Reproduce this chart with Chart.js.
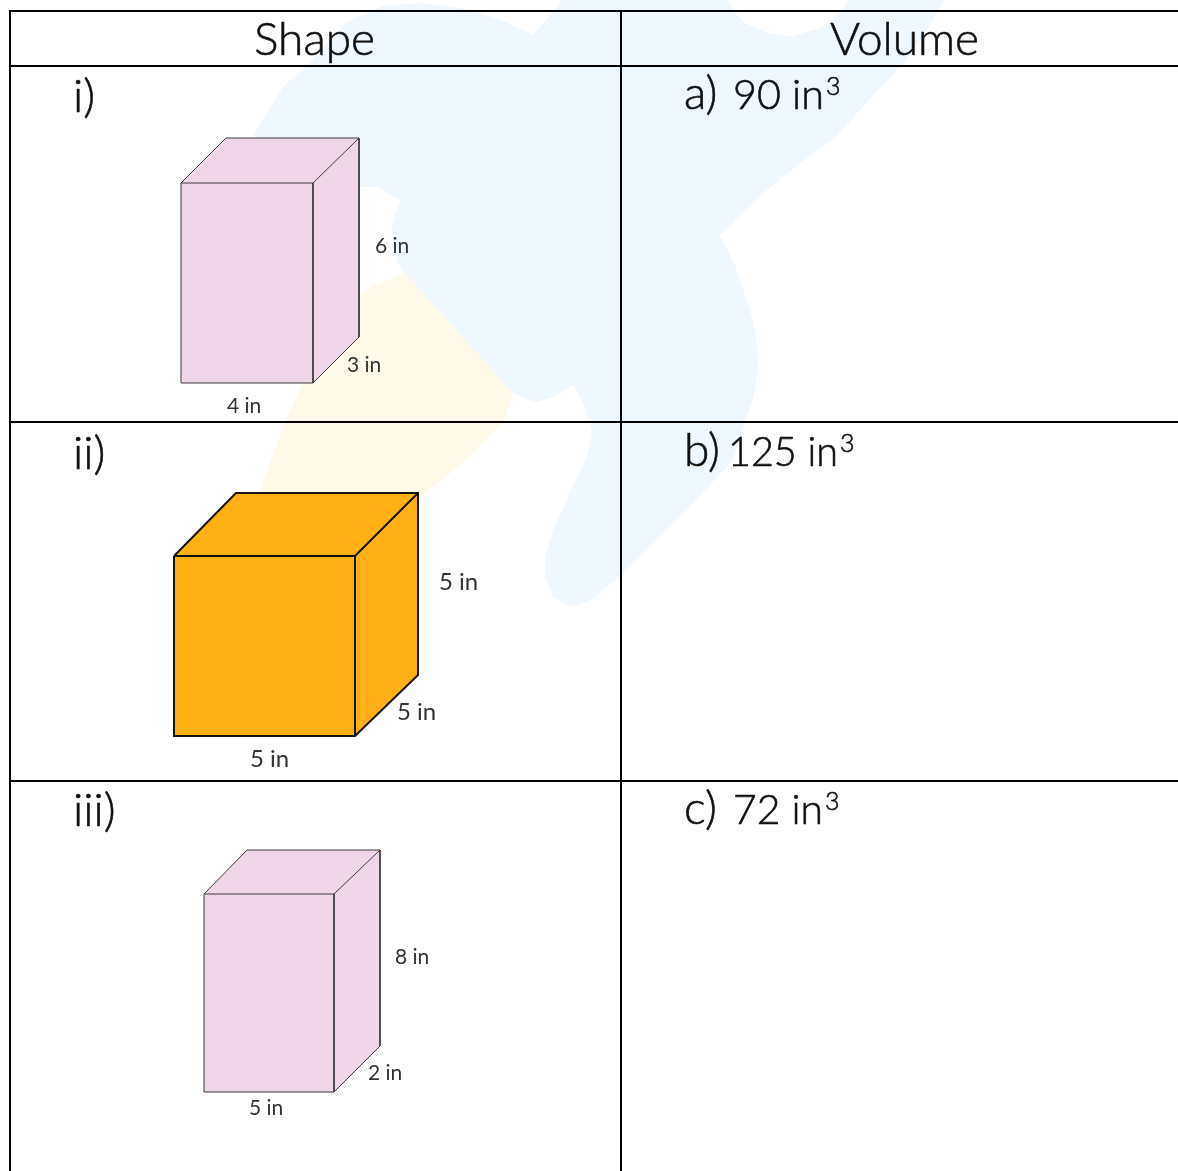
<!DOCTYPE html>
<html>
<head>
<meta charset="utf-8">
<title>Shape and volume</title>
<script src="https://cdn.jsdelivr.net/npm/chart.js@4"></script>
<style>
  html, body { margin: 0; padding: 0; background: #fff; }
  canvas { display: block; }
</style>
</head>
<body>
<canvas id="sheet" width="1178" height="1171"></canvas>
<script>
'use strict';

// ── text ──
const headers = ['Shape', 'Volume'];
const rowLabels = ['i)', 'ii)', 'iii)'];
const answerKeys = ['a)', 'b)', 'c)'];
const answers = ['90 in', '125 in', '72 in'];
const dimsFirst = ['4 in', '3 in', '6 in'];
const dimsSecond = ['5 in', '5 in', '5 in'];
const dimsThird = ['5 in', '2 in', '8 in'];

// ── table rules ──
const ruleTop = [[10, 11], [1178, 11]];
const ruleHead = [[10, 66], [1178, 66]];
const ruleRow1 = [[10, 422], [1178, 422]];
const ruleRow2 = [[10, 781], [1178, 781]];
const ruleLeft = [[10, 10], [10, 1171]];
const ruleMid = [[621, 10], [621, 1171]];

// ── cuboids: outer silhouette, then inner edges ──
const pinkOuter = [[181, 183], [226, 138], [359, 138], [359, 337], [313, 383], [181, 383]];
const pinkInner = [[181, 183], [313, 183], [313, 383]];
const pinkTopEdge = [[313, 183], [359, 138]];

const cubeOuter = [[174, 556], [236, 493], [418, 493], [418, 675], [355, 736], [174, 736]];
const cubeInner = [[174, 556], [355, 556], [355, 736]];
const cubeTopEdge = [[355, 556], [418, 493]];

const tallOuter = [[204, 894], [247, 850], [380, 850], [380, 1046], [334, 1092], [204, 1092]];
const tallInner = [[204, 894], [334, 894], [334, 1092]];
const tallTopEdge = [[334, 894], [380, 850]];

// ── watermark behind the table ──
const markBlue = [
  [253, 135], [283, 87], [307, 65], [347, 22], [383, 6], [423, 3], [473, 10], [510, 24], [533, 35],
  [548, 18], [562, 0], [727, 0], [735, 12], [743, 22], [767, 33], [790, 37], [820, 28], [840, 12],
  [848, 0], [944, 0], [930, 25], [905, 62], [869, 100], [835, 138], [800, 163], [767, 190], [720, 235],
  [735, 265], [745, 295], [753, 320], [757, 345], [758, 370], [754, 395], [747, 417], [733, 460],
  [687, 510], [620, 577], [590, 600], [570, 607], [553, 597], [545, 577], [545, 557], [553, 530],
  [573, 487], [588, 453], [592, 433], [585, 407], [573, 385], [553, 397], [537, 402], [520, 397],
  [513, 393], [405, 273], [397, 263], [392, 227], [400, 200], [377, 187], [360, 187], [330, 180]
];
const markYellow = [
  [405, 273], [380, 283], [360, 293], [325, 335], [303, 383], [285, 422], [260, 490], [300, 560],
  [420, 497], [467, 460], [503, 422], [513, 393]
];

function poly(points, opts) {
  return Object.assign({
    data: points.map(p => ({ x: p[0], y: p[1] })),
    showLine: true,
    pointRadius: 0,
    tension: 0,
    borderWidth: 0,
    borderColor: 'transparent',
    backgroundColor: 'transparent',
    fill: false,
    clip: false,
    borderJoinStyle: 'miter'
  }, opts);
}

const ruleStyle = { borderColor: '#000', borderWidth: 2 };
const pinkFace = { fill: 'shape', backgroundColor: '#efd7e9', borderColor: '#3a3a3a', borderWidth: 1 };
const pinkLine = { borderColor: '#3a3a3a', borderWidth: 1 };
const cubeFace = { fill: 'shape', backgroundColor: '#ffb015', borderColor: '#141414', borderWidth: 2 };
const cubeLine = { borderColor: '#141414', borderWidth: 2 };

// Chart.js paints the first dataset last, so the list runs from top layer to bottom
const datasets = [
  poly(ruleTop, ruleStyle),
  poly(ruleHead, ruleStyle),
  poly(ruleRow1, ruleStyle),
  poly(ruleRow2, ruleStyle),
  poly(ruleLeft, ruleStyle),
  poly(ruleMid, ruleStyle),
  poly(tallTopEdge, pinkLine),
  poly(tallInner, pinkLine),
  poly(tallOuter.concat([tallOuter[0]]), pinkFace),
  poly(cubeTopEdge, cubeLine),
  poly(cubeInner, cubeLine),
  poly(cubeOuter.concat([cubeOuter[0]]), cubeFace),
  poly(pinkTopEdge, pinkLine),
  poly(pinkInner, pinkLine),
  poly(pinkOuter.concat([pinkOuter[0]]), pinkFace),
  poly(markBlue.concat([markBlue[0]]), { fill: 'shape', backgroundColor: '#eff8fe' }),
  poly(markYellow, { fill: 'shape', backgroundColor: '#fff9ea' })
];

const FONT = 'Lato';

// text layer, placed through the same scales as the marks
const sheetText = {
  id: 'sheetText',
  afterDatasetsDraw(chart) {
    const { ctx, scales: { x, y } } = chart;
    const put = (str, px, py, size, col, weight, maxW) => {
      ctx.font = (weight || 300) + ' ' + size + 'px ' + FONT + ', sans-serif';
      ctx.fillStyle = col || '#111';
      ctx.strokeStyle = col || '#111';
      ctx.lineWidth = 0.6;
      ctx.textAlign = 'left';
      ctx.textBaseline = 'alphabetic';
      const w = maxW || ctx.measureText(str).width;
      ctx.fillText(str, x.getPixelForValue(px), y.getPixelForValue(py), w);
      if (size >= 25) ctx.strokeText(str, x.getPixelForValue(px), y.getPixelForValue(py), w);
      return w;
    };
    ctx.save();
    put(headers[0], 254, 55, 46);
    put(headers[1], 830, 55, 46);

    [[73, 112], [73, 469], [73, 826]].forEach((p, i) => put(rowLabels[i], p[0], p[1], 46));

    // squeeze the answers a little, Lato runs wider than the sheet's face
    [[684, 733, 109, 91], [684, 728, 466, 110], [684, 733, 824, 90]].forEach((p, i) => {
      put(answerKeys[i], p[0], p[2], 46);
      const w = put(answers[i], p[1], p[2], 42, null, null, p[3]);
      put('3', p[1] + w + 2, p[2] - 14, 25);
    });

    const small = '#333';
    [[227, 413], [347, 372], [375, 253]].forEach((p, i) => put(dimsFirst[i], p[0], p[1], 21, small, 400));
    [[250, 767], [397, 720], [439, 590]].forEach((p, i) => put(dimsSecond[i], p[0], p[1], 24, small, 400));
    [[249, 1115], [368, 1080], [395, 964]].forEach((p, i) => put(dimsThird[i], p[0], p[1], 21, small, 400));
    ctx.restore();
  }
};

new Chart(document.getElementById('sheet'), {
  type: 'scatter',
  data: { datasets },
  options: {
    responsive: false,
    animation: false,
    devicePixelRatio: 1,
    layout: { padding: 0 },
    plugins: { legend: { display: false }, tooltip: { enabled: false }, title: { display: false } },
    scales: {
      x: { type: 'linear', display: false, min: 0, max: 1178 },
      y: { type: 'linear', display: false, min: 0, max: 1171, reverse: true }
    }
  },
  plugins: [sheetText]
});
</script>
</body>
</html>
